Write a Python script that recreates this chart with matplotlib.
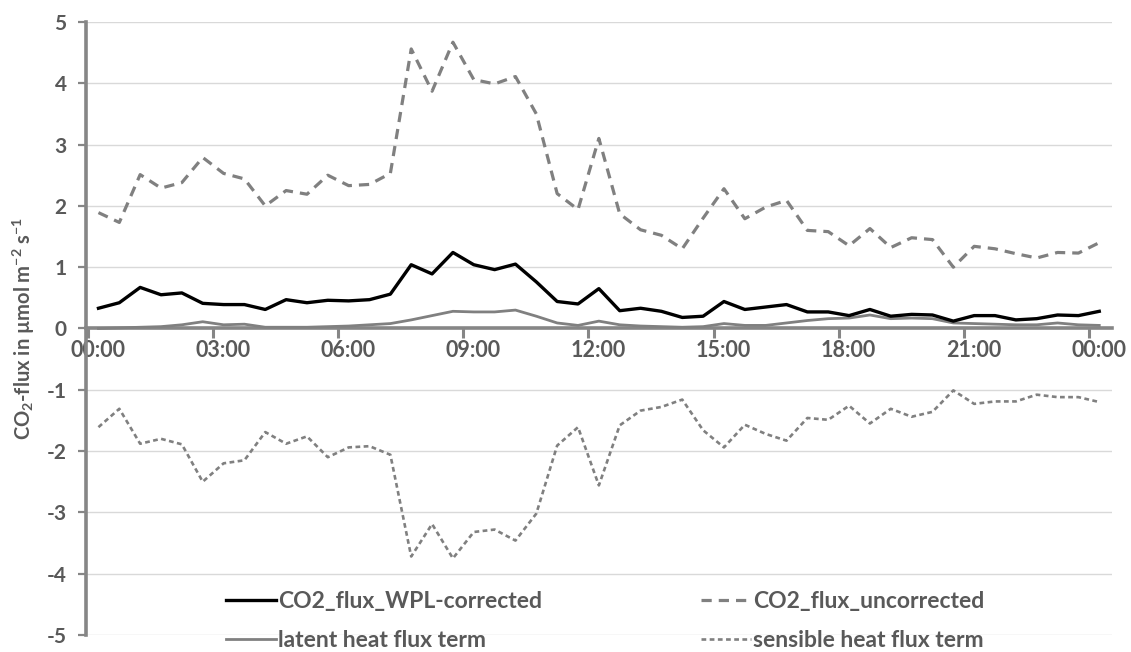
import matplotlib
matplotlib.use("Agg")
import matplotlib.pyplot as plt
import matplotlib.transforms as mtransforms

# ================= DATA =================
# half-hourly values, first value at 00:15
hours = [0.25 + 0.5 * i for i in range(49)]

co2_corrected = [0.33, 0.42, 0.67, 0.55, 0.58, 0.41, 0.39, 0.39, 0.31, 0.47,
                 0.42, 0.46, 0.45, 0.47, 0.56, 1.04, 0.89, 1.24, 1.04, 0.96,
                 1.05, 0.76, 0.44, 0.40, 0.65, 0.29, 0.33, 0.28, 0.18, 0.20,
                 0.44, 0.31, 0.35, 0.39, 0.27, 0.27, 0.21, 0.31, 0.20, 0.23,
                 0.22, 0.12, 0.21, 0.21, 0.14, 0.16, 0.22, 0.21, 0.28]

co2_uncorrected = [1.89, 1.73, 2.51, 2.29, 2.38, 2.79, 2.53, 2.44, 2.00, 2.25,
                   2.19, 2.50, 2.33, 2.35, 2.53, 4.56, 3.87, 4.67, 4.06, 3.99,
                   4.11, 3.50, 2.20, 1.94, 3.10, 1.87, 1.61, 1.52, 1.30, 1.80,
                   2.28, 1.79, 1.98, 2.09, 1.60, 1.58, 1.35, 1.63, 1.32, 1.48,
                   1.45, 1.00, 1.34, 1.30, 1.22, 1.15, 1.24, 1.23, 1.40]

latent_term = [0.00, 0.01, 0.02, 0.03, 0.06, 0.11, 0.06, 0.07, 0.02, 0.02,
               0.02, 0.03, 0.04, 0.06, 0.08, 0.14, 0.21, 0.28, 0.27, 0.27,
               0.30, 0.20, 0.09, 0.05, 0.12, 0.06, 0.04, 0.03, 0.02, 0.03,
               0.08, 0.05, 0.05, 0.09, 0.13, 0.16, 0.17, 0.22, 0.16, 0.17,
               0.16, 0.09, 0.08, 0.07, 0.06, 0.06, 0.09, 0.06, 0.05]

sensible_term = [-1.61, -1.31, -1.88, -1.80, -1.89, -2.50, -2.20, -2.15, -1.69, -1.88,
                 -1.76, -2.10, -1.94, -1.92, -2.06, -3.72, -3.19, -3.75, -3.32, -3.28,
                 -3.46, -3.02, -1.91, -1.61, -2.56, -1.58, -1.34, -1.28, -1.16, -1.66,
                 -1.94, -1.57, -1.72, -1.83, -1.46, -1.49, -1.26, -1.55, -1.31, -1.44,
                 -1.36, -1.01, -1.23, -1.19, -1.19, -1.08, -1.12, -1.12, -1.20]

tick_hours = [0, 3, 6, 9, 12, 15, 18, 21, 24]
tick_labels = ["00:00", "03:00", "06:00", "09:00", "12:00", "15:00", "18:00", "21:00", "00:00"]
y_ticks = [5, 4, 3, 2, 1, 0, -1, -2, -3, -4, -5]

# ================= STYLE =================
plt.rcParams["font.family"] = ["Lato", "DejaVu Sans"]
plt.rcParams["mathtext.default"] = "regular"
TEXT = "#595959"
AXIS = "#868686"
LINE_GREY = "#808080"

fig = plt.figure(figsize=(11.31, 6.52), dpi=100)
ax = fig.add_axes([0.076, 0.0261, 0.907, 0.9402])

ax.plot(hours, co2_corrected, color="black", lw=2.4, label="CO2_flux_WPL-corrected", zorder=4)
ax.plot(hours, latent_term, color=LINE_GREY, lw=2.0, label="latent heat flux term", zorder=3)
ax.plot(hours, co2_uncorrected, color=LINE_GREY, lw=2.3, dashes=(3.2, 2.2),
        label="CO2_flux_uncorrected", zorder=3)
ax.plot(hours, sensible_term, color=LINE_GREY, lw=1.9, dashes=(1.8, 1.3),
        label="sensible heat flux term", zorder=3)

ax.set_xlim(-0.05, 24.55)
ax.set_ylim(-5, 5)
ax.set_yticks(y_ticks)
ax.set_yticklabels([str(v) for v in y_ticks])
ax.set_xticks(tick_hours)
ax.set_xticklabels(tick_labels)

ax.grid(axis="y", color="#d9d9d9", lw=1.0, zorder=0)
ax.set_axisbelow(True)

for s in ["top", "right"]:
    ax.spines[s].set_visible(False)
ax.spines["bottom"].set_position(("data", 0))
ax.spines["bottom"].set_color(AXIS)
ax.spines["bottom"].set_linewidth(2.6)
ax.spines["bottom"].set_zorder(2)
ax.spines["left"].set_color(AXIS)
ax.spines["left"].set_linewidth(2.6)

ax.tick_params(axis="x", direction="out", length=7, width=2.2, color=AXIS,
               labelsize=15.5, labelcolor=TEXT, pad=1)
ax.tick_params(axis="y", direction="out", length=6, width=1.6, color=AXIS,
               labelsize=15, labelcolor=TEXT, pad=8)
for lab in ax.get_xticklabels() + ax.get_yticklabels():
    lab.set_fontweight("bold")

# Excel puts the time labels a bit right of the ticks
shift = mtransforms.ScaledTranslation(0.1, 0, fig.dpi_scale_trans)
for lab in ax.get_xticklabels():
    lab.set_transform(lab.get_transform() + shift)

fig.text(0.021, 0.497, r"CO$_2$-flux in µmol m$^{-2}$ s$^{-1}$", rotation=90,
         ha="center", va="center", fontsize=14.5, fontweight="bold", color=TEXT)

leg = ax.legend(loc="center", bbox_to_anchor=(0.535, 0.048), bbox_transform=fig.transFigure,
                ncol=2, frameon=False, fontsize=16.5, handlelength=2.2, handletextpad=0.1,
                columnspacing=6.9, labelspacing=0.8)
for t in leg.get_texts():
    t.set_color(TEXT)
    t.set_fontweight("bold")

fig.savefig("out.png", dpi=100)
